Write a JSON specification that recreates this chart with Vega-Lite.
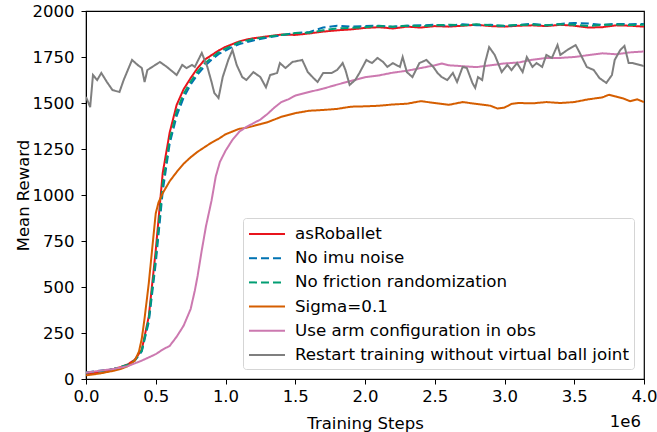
{
  "$schema": "https://vega.github.io/schema/vega-lite/v6.json",
  "width": 558,
  "height": 368,
  "autosize": {"type": "none"},
  "padding": {"left": 86, "top": 11, "right": 13, "bottom": 53},
  "config": {
    "font": "DejaVu Sans",
    "view": {"stroke": "black", "strokeWidth": 1.2}
  },
  "layer": [
    {
      "data": {"values": [
        {"s":"asRoballet","x":0,"y":30},{"s":"asRoballet","x":50000,"y":32},{"s":"asRoballet","x":100000,"y":40},{"s":"asRoballet","x":150000,"y":45},{"s":"asRoballet","x":200000,"y":55},{"s":"asRoballet","x":250000,"y":65},{"s":"asRoballet","x":300000,"y":80},{"s":"asRoballet","x":350000,"y":105},{"s":"asRoballet","x":400000,"y":160},{"s":"asRoballet","x":450000,"y":340},{"s":"asRoballet","x":500000,"y":700},{"s":"asRoballet","x":550000,"y":1120},{"s":"asRoballet","x":600000,"y":1340},{"s":"asRoballet","x":650000,"y":1490},{"s":"asRoballet","x":700000,"y":1575},{"s":"asRoballet","x":750000,"y":1635},{"s":"asRoballet","x":800000,"y":1690},{"s":"asRoballet","x":850000,"y":1735},{"s":"asRoballet","x":900000,"y":1760},{"s":"asRoballet","x":950000,"y":1785},{"s":"asRoballet","x":1000000,"y":1805},{"s":"asRoballet","x":1050000,"y":1820},{"s":"asRoballet","x":1100000,"y":1835},{"s":"asRoballet","x":1150000,"y":1845},{"s":"asRoballet","x":1200000,"y":1852},{"s":"asRoballet","x":1300000,"y":1862},{"s":"asRoballet","x":1400000,"y":1872},{"s":"asRoballet","x":1500000,"y":1870},{"s":"asRoballet","x":1600000,"y":1878},{"s":"asRoballet","x":1700000,"y":1888},{"s":"asRoballet","x":1800000,"y":1895},{"s":"asRoballet","x":1900000,"y":1900},{"s":"asRoballet","x":2000000,"y":1908},{"s":"asRoballet","x":2100000,"y":1912},{"s":"asRoballet","x":2200000,"y":1905},{"s":"asRoballet","x":2300000,"y":1915},{"s":"asRoballet","x":2400000,"y":1910},{"s":"asRoballet","x":2500000,"y":1918},{"s":"asRoballet","x":2600000,"y":1915},{"s":"asRoballet","x":2700000,"y":1920},{"s":"asRoballet","x":2800000,"y":1925},{"s":"asRoballet","x":2900000,"y":1918},{"s":"asRoballet","x":3000000,"y":1915},{"s":"asRoballet","x":3100000,"y":1920},{"s":"asRoballet","x":3200000,"y":1922},{"s":"asRoballet","x":3300000,"y":1918},{"s":"asRoballet","x":3400000,"y":1925},{"s":"asRoballet","x":3500000,"y":1920},{"s":"asRoballet","x":3600000,"y":1910},{"s":"asRoballet","x":3700000,"y":1912},{"s":"asRoballet","x":3800000,"y":1922},{"s":"asRoballet","x":3900000,"y":1920},{"s":"asRoballet","x":4000000,"y":1915},

        {"s":"No imu noise","x":0,"y":35},{"s":"No imu noise","x":100000,"y":45},{"s":"No imu noise","x":200000,"y":55},{"s":"No imu noise","x":300000,"y":75},{"s":"No imu noise","x":350000,"y":100},{"s":"No imu noise","x":400000,"y":150},{"s":"No imu noise","x":450000,"y":310},{"s":"No imu noise","x":500000,"y":630},{"s":"No imu noise","x":550000,"y":1020},{"s":"No imu noise","x":600000,"y":1280},{"s":"No imu noise","x":650000,"y":1430},{"s":"No imu noise","x":700000,"y":1530},{"s":"No imu noise","x":750000,"y":1600},{"s":"No imu noise","x":800000,"y":1655},{"s":"No imu noise","x":850000,"y":1700},{"s":"No imu noise","x":900000,"y":1735},{"s":"No imu noise","x":950000,"y":1765},{"s":"No imu noise","x":1000000,"y":1785},{"s":"No imu noise","x":1050000,"y":1805},{"s":"No imu noise","x":1100000,"y":1820},{"s":"No imu noise","x":1200000,"y":1840},{"s":"No imu noise","x":1300000,"y":1855},{"s":"No imu noise","x":1400000,"y":1868},{"s":"No imu noise","x":1500000,"y":1880},{"s":"No imu noise","x":1600000,"y":1885},{"s":"No imu noise","x":1700000,"y":1910},{"s":"No imu noise","x":1800000,"y":1920},{"s":"No imu noise","x":1900000,"y":1915},{"s":"No imu noise","x":2000000,"y":1918},{"s":"No imu noise","x":2100000,"y":1920},{"s":"No imu noise","x":2200000,"y":1915},{"s":"No imu noise","x":2300000,"y":1920},{"s":"No imu noise","x":2400000,"y":1922},{"s":"No imu noise","x":2500000,"y":1925},{"s":"No imu noise","x":2600000,"y":1920},{"s":"No imu noise","x":2700000,"y":1928},{"s":"No imu noise","x":2800000,"y":1922},{"s":"No imu noise","x":2900000,"y":1925},{"s":"No imu noise","x":3000000,"y":1918},{"s":"No imu noise","x":3100000,"y":1925},{"s":"No imu noise","x":3200000,"y":1930},{"s":"No imu noise","x":3300000,"y":1922},{"s":"No imu noise","x":3400000,"y":1930},{"s":"No imu noise","x":3500000,"y":1935},{"s":"No imu noise","x":3600000,"y":1932},{"s":"No imu noise","x":3700000,"y":1925},{"s":"No imu noise","x":3800000,"y":1930},{"s":"No imu noise","x":3900000,"y":1928},{"s":"No imu noise","x":4000000,"y":1930},

        {"s":"No friction randomization","x":0,"y":35},{"s":"No friction randomization","x":100000,"y":42},{"s":"No friction randomization","x":200000,"y":55},{"s":"No friction randomization","x":300000,"y":78},{"s":"No friction randomization","x":350000,"y":102},{"s":"No friction randomization","x":400000,"y":155},{"s":"No friction randomization","x":450000,"y":325},{"s":"No friction randomization","x":500000,"y":660},{"s":"No friction randomization","x":550000,"y":1060},{"s":"No friction randomization","x":600000,"y":1300},{"s":"No friction randomization","x":650000,"y":1455},{"s":"No friction randomization","x":700000,"y":1550},{"s":"No friction randomization","x":750000,"y":1615},{"s":"No friction randomization","x":800000,"y":1670},{"s":"No friction randomization","x":850000,"y":1715},{"s":"No friction randomization","x":900000,"y":1745},{"s":"No friction randomization","x":950000,"y":1775},{"s":"No friction randomization","x":1000000,"y":1795},{"s":"No friction randomization","x":1100000,"y":1830},{"s":"No friction randomization","x":1200000,"y":1848},{"s":"No friction randomization","x":1300000,"y":1860},{"s":"No friction randomization","x":1400000,"y":1870},{"s":"No friction randomization","x":1500000,"y":1880},{"s":"No friction randomization","x":1600000,"y":1882},{"s":"No friction randomization","x":1700000,"y":1895},{"s":"No friction randomization","x":1800000,"y":1905},{"s":"No friction randomization","x":1900000,"y":1908},{"s":"No friction randomization","x":2000000,"y":1912},{"s":"No friction randomization","x":2100000,"y":1918},{"s":"No friction randomization","x":2200000,"y":1915},{"s":"No friction randomization","x":2300000,"y":1920},{"s":"No friction randomization","x":2400000,"y":1918},{"s":"No friction randomization","x":2500000,"y":1922},{"s":"No friction randomization","x":2600000,"y":1925},{"s":"No friction randomization","x":2700000,"y":1922},{"s":"No friction randomization","x":2800000,"y":1928},{"s":"No friction randomization","x":2900000,"y":1922},{"s":"No friction randomization","x":3000000,"y":1920},{"s":"No friction randomization","x":3100000,"y":1924},{"s":"No friction randomization","x":3200000,"y":1926},{"s":"No friction randomization","x":3300000,"y":1922},{"s":"No friction randomization","x":3400000,"y":1928},{"s":"No friction randomization","x":3500000,"y":1925},{"s":"No friction randomization","x":3600000,"y":1918},{"s":"No friction randomization","x":3700000,"y":1925},{"s":"No friction randomization","x":3800000,"y":1926},{"s":"No friction randomization","x":3900000,"y":1924},{"s":"No friction randomization","x":4000000,"y":1925},

        {"s":"Sigma=0.1","x":0,"y":20},{"s":"Sigma=0.1","x":100000,"y":30},{"s":"Sigma=0.1","x":200000,"y":45},{"s":"Sigma=0.1","x":250000,"y":55},{"s":"Sigma=0.1","x":300000,"y":70},{"s":"Sigma=0.1","x":350000,"y":100},{"s":"Sigma=0.1","x":380000,"y":150},{"s":"Sigma=0.1","x":400000,"y":220},{"s":"Sigma=0.1","x":420000,"y":330},{"s":"Sigma=0.1","x":450000,"y":520},{"s":"Sigma=0.1","x":480000,"y":750},{"s":"Sigma=0.1","x":500000,"y":900},{"s":"Sigma=0.1","x":520000,"y":960},{"s":"Sigma=0.1","x":550000,"y":1010},{"s":"Sigma=0.1","x":600000,"y":1075},{"s":"Sigma=0.1","x":650000,"y":1125},{"s":"Sigma=0.1","x":700000,"y":1170},{"s":"Sigma=0.1","x":750000,"y":1205},{"s":"Sigma=0.1","x":800000,"y":1235},{"s":"Sigma=0.1","x":850000,"y":1260},{"s":"Sigma=0.1","x":900000,"y":1285},{"s":"Sigma=0.1","x":950000,"y":1305},{"s":"Sigma=0.1","x":1000000,"y":1330},{"s":"Sigma=0.1","x":1050000,"y":1345},{"s":"Sigma=0.1","x":1100000,"y":1360},{"s":"Sigma=0.1","x":1150000,"y":1365},{"s":"Sigma=0.1","x":1200000,"y":1375},{"s":"Sigma=0.1","x":1250000,"y":1385},{"s":"Sigma=0.1","x":1300000,"y":1395},{"s":"Sigma=0.1","x":1350000,"y":1410},{"s":"Sigma=0.1","x":1400000,"y":1425},{"s":"Sigma=0.1","x":1500000,"y":1445},{"s":"Sigma=0.1","x":1600000,"y":1458},{"s":"Sigma=0.1","x":1700000,"y":1462},{"s":"Sigma=0.1","x":1800000,"y":1468},{"s":"Sigma=0.1","x":1900000,"y":1480},{"s":"Sigma=0.1","x":2000000,"y":1482},{"s":"Sigma=0.1","x":2100000,"y":1485},{"s":"Sigma=0.1","x":2200000,"y":1492},{"s":"Sigma=0.1","x":2300000,"y":1496},{"s":"Sigma=0.1","x":2400000,"y":1510},{"s":"Sigma=0.1","x":2500000,"y":1500},{"s":"Sigma=0.1","x":2600000,"y":1490},{"s":"Sigma=0.1","x":2700000,"y":1505},{"s":"Sigma=0.1","x":2800000,"y":1495},{"s":"Sigma=0.1","x":2900000,"y":1485},{"s":"Sigma=0.1","x":2950000,"y":1470},{"s":"Sigma=0.1","x":3000000,"y":1475},{"s":"Sigma=0.1","x":3050000,"y":1495},{"s":"Sigma=0.1","x":3100000,"y":1500},{"s":"Sigma=0.1","x":3200000,"y":1498},{"s":"Sigma=0.1","x":3300000,"y":1505},{"s":"Sigma=0.1","x":3400000,"y":1500},{"s":"Sigma=0.1","x":3500000,"y":1505},{"s":"Sigma=0.1","x":3600000,"y":1520},{"s":"Sigma=0.1","x":3700000,"y":1530},{"s":"Sigma=0.1","x":3750000,"y":1545},{"s":"Sigma=0.1","x":3800000,"y":1535},{"s":"Sigma=0.1","x":3850000,"y":1525},{"s":"Sigma=0.1","x":3900000,"y":1510},{"s":"Sigma=0.1","x":3950000,"y":1520},{"s":"Sigma=0.1","x":4000000,"y":1505},

        {"s":"Use arm configuration in obs","x":0,"y":35},{"s":"Use arm configuration in obs","x":100000,"y":45},{"s":"Use arm configuration in obs","x":200000,"y":55},{"s":"Use arm configuration in obs","x":300000,"y":70},{"s":"Use arm configuration in obs","x":400000,"y":100},{"s":"Use arm configuration in obs","x":500000,"y":135},{"s":"Use arm configuration in obs","x":550000,"y":160},{"s":"Use arm configuration in obs","x":600000,"y":180},{"s":"Use arm configuration in obs","x":650000,"y":230},{"s":"Use arm configuration in obs","x":700000,"y":290},{"s":"Use arm configuration in obs","x":750000,"y":380},{"s":"Use arm configuration in obs","x":780000,"y":480},{"s":"Use arm configuration in obs","x":800000,"y":560},{"s":"Use arm configuration in obs","x":830000,"y":700},{"s":"Use arm configuration in obs","x":860000,"y":830},{"s":"Use arm configuration in obs","x":900000,"y":970},{"s":"Use arm configuration in obs","x":930000,"y":1100},{"s":"Use arm configuration in obs","x":960000,"y":1180},{"s":"Use arm configuration in obs","x":1000000,"y":1240},{"s":"Use arm configuration in obs","x":1050000,"y":1300},{"s":"Use arm configuration in obs","x":1100000,"y":1345},{"s":"Use arm configuration in obs","x":1150000,"y":1370},{"s":"Use arm configuration in obs","x":1200000,"y":1390},{"s":"Use arm configuration in obs","x":1250000,"y":1410},{"s":"Use arm configuration in obs","x":1300000,"y":1440},{"s":"Use arm configuration in obs","x":1350000,"y":1475},{"s":"Use arm configuration in obs","x":1400000,"y":1505},{"s":"Use arm configuration in obs","x":1450000,"y":1520},{"s":"Use arm configuration in obs","x":1500000,"y":1540},{"s":"Use arm configuration in obs","x":1550000,"y":1550},{"s":"Use arm configuration in obs","x":1600000,"y":1560},{"s":"Use arm configuration in obs","x":1700000,"y":1578},{"s":"Use arm configuration in obs","x":1800000,"y":1600},{"s":"Use arm configuration in obs","x":1900000,"y":1620},{"s":"Use arm configuration in obs","x":2000000,"y":1640},{"s":"Use arm configuration in obs","x":2100000,"y":1650},{"s":"Use arm configuration in obs","x":2200000,"y":1665},{"s":"Use arm configuration in obs","x":2300000,"y":1675},{"s":"Use arm configuration in obs","x":2400000,"y":1690},{"s":"Use arm configuration in obs","x":2500000,"y":1705},{"s":"Use arm configuration in obs","x":2550000,"y":1715},{"s":"Use arm configuration in obs","x":2600000,"y":1705},{"s":"Use arm configuration in obs","x":2700000,"y":1700},{"s":"Use arm configuration in obs","x":2800000,"y":1695},{"s":"Use arm configuration in obs","x":2900000,"y":1705},{"s":"Use arm configuration in obs","x":3000000,"y":1715},{"s":"Use arm configuration in obs","x":3100000,"y":1720},{"s":"Use arm configuration in obs","x":3200000,"y":1735},{"s":"Use arm configuration in obs","x":3300000,"y":1745},{"s":"Use arm configuration in obs","x":3400000,"y":1745},{"s":"Use arm configuration in obs","x":3500000,"y":1750},{"s":"Use arm configuration in obs","x":3600000,"y":1760},{"s":"Use arm configuration in obs","x":3700000,"y":1770},{"s":"Use arm configuration in obs","x":3800000,"y":1765},{"s":"Use arm configuration in obs","x":3900000,"y":1775},{"s":"Use arm configuration in obs","x":4000000,"y":1780},

        {"s":"Restart training without virtual ball joint","x":0,"y":1533},{"s":"Restart training without virtual ball joint","x":30000,"y":1478},{"s":"Restart training without virtual ball joint","x":50000,"y":1652},{"s":"Restart training without virtual ball joint","x":80000,"y":1625},{"s":"Restart training without virtual ball joint","x":110000,"y":1663},{"s":"Restart training without virtual ball joint","x":150000,"y":1614},{"s":"Restart training without virtual ball joint","x":190000,"y":1570},{"s":"Restart training without virtual ball joint","x":240000,"y":1560},{"s":"Restart training without virtual ball joint","x":270000,"y":1625},{"s":"Restart training without virtual ball joint","x":330000,"y":1734},{"s":"Restart training without virtual ball joint","x":370000,"y":1707},{"s":"Restart training without virtual ball joint","x":400000,"y":1690},{"s":"Restart training without virtual ball joint","x":420000,"y":1614},{"s":"Restart training without virtual ball joint","x":440000,"y":1679},{"s":"Restart training without virtual ball joint","x":530000,"y":1723},{"s":"Restart training without virtual ball joint","x":580000,"y":1696},{"s":"Restart training without virtual ball joint","x":650000,"y":1652},{"s":"Restart training without virtual ball joint","x":690000,"y":1707},{"s":"Restart training without virtual ball joint","x":720000,"y":1690},{"s":"Restart training without virtual ball joint","x":760000,"y":1707},{"s":"Restart training without virtual ball joint","x":780000,"y":1696},{"s":"Restart training without virtual ball joint","x":830000,"y":1772},{"s":"Restart training without virtual ball joint","x":870000,"y":1696},{"s":"Restart training without virtual ball joint","x":900000,"y":1614},{"s":"Restart training without virtual ball joint","x":920000,"y":1554},{"s":"Restart training without virtual ball joint","x":950000,"y":1527},{"s":"Restart training without virtual ball joint","x":980000,"y":1641},{"s":"Restart training without virtual ball joint","x":1020000,"y":1734},{"s":"Restart training without virtual ball joint","x":1050000,"y":1788},{"s":"Restart training without virtual ball joint","x":1080000,"y":1707},{"s":"Restart training without virtual ball joint","x":1120000,"y":1641},{"s":"Restart training without virtual ball joint","x":1150000,"y":1625},{"s":"Restart training without virtual ball joint","x":1200000,"y":1668},{"s":"Restart training without virtual ball joint","x":1250000,"y":1641},{"s":"Restart training without virtual ball joint","x":1290000,"y":1585},{"s":"Restart training without virtual ball joint","x":1320000,"y":1652},{"s":"Restart training without virtual ball joint","x":1370000,"y":1663},{"s":"Restart training without virtual ball joint","x":1390000,"y":1717},{"s":"Restart training without virtual ball joint","x":1430000,"y":1690},{"s":"Restart training without virtual ball joint","x":1480000,"y":1723},{"s":"Restart training without virtual ball joint","x":1550000,"y":1734},{"s":"Restart training without virtual ball joint","x":1590000,"y":1668},{"s":"Restart training without virtual ball joint","x":1630000,"y":1636},{"s":"Restart training without virtual ball joint","x":1660000,"y":1614},{"s":"Restart training without virtual ball joint","x":1700000,"y":1663},{"s":"Restart training without virtual ball joint","x":1760000,"y":1663},{"s":"Restart training without virtual ball joint","x":1800000,"y":1679},{"s":"Restart training without virtual ball joint","x":1840000,"y":1717},{"s":"Restart training without virtual ball joint","x":1860000,"y":1679},{"s":"Restart training without virtual ball joint","x":1890000,"y":1598},{"s":"Restart training without virtual ball joint","x":1930000,"y":1625},{"s":"Restart training without virtual ball joint","x":1960000,"y":1663},{"s":"Restart training without virtual ball joint","x":2010000,"y":1734},{"s":"Restart training without virtual ball joint","x":2050000,"y":1717},{"s":"Restart training without virtual ball joint","x":2090000,"y":1745},{"s":"Restart training without virtual ball joint","x":2130000,"y":1723},{"s":"Restart training without virtual ball joint","x":2160000,"y":1696},{"s":"Restart training without virtual ball joint","x":2200000,"y":1717},{"s":"Restart training without virtual ball joint","x":2250000,"y":1696},{"s":"Restart training without virtual ball joint","x":2270000,"y":1750},{"s":"Restart training without virtual ball joint","x":2300000,"y":1668},{"s":"Restart training without virtual ball joint","x":2340000,"y":1641},{"s":"Restart training without virtual ball joint","x":2390000,"y":1717},{"s":"Restart training without virtual ball joint","x":2440000,"y":1734},{"s":"Restart training without virtual ball joint","x":2490000,"y":1696},{"s":"Restart training without virtual ball joint","x":2520000,"y":1663},{"s":"Restart training without virtual ball joint","x":2550000,"y":1641},{"s":"Restart training without virtual ball joint","x":2590000,"y":1625},{"s":"Restart training without virtual ball joint","x":2630000,"y":1663},{"s":"Restart training without virtual ball joint","x":2660000,"y":1614},{"s":"Restart training without virtual ball joint","x":2700000,"y":1696},{"s":"Restart training without virtual ball joint","x":2730000,"y":1690},{"s":"Restart training without virtual ball joint","x":2770000,"y":1609},{"s":"Restart training without virtual ball joint","x":2790000,"y":1582},{"s":"Restart training without virtual ball joint","x":2810000,"y":1641},{"s":"Restart training without virtual ball joint","x":2840000,"y":1625},{"s":"Restart training without virtual ball joint","x":2860000,"y":1717},{"s":"Restart training without virtual ball joint","x":2890000,"y":1804},{"s":"Restart training without virtual ball joint","x":2930000,"y":1761},{"s":"Restart training without virtual ball joint","x":2980000,"y":1668},{"s":"Restart training without virtual ball joint","x":3020000,"y":1707},{"s":"Restart training without virtual ball joint","x":3050000,"y":1679},{"s":"Restart training without virtual ball joint","x":3090000,"y":1717},{"s":"Restart training without virtual ball joint","x":3130000,"y":1668},{"s":"Restart training without virtual ball joint","x":3160000,"y":1750},{"s":"Restart training without virtual ball joint","x":3200000,"y":1696},{"s":"Restart training without virtual ball joint","x":3230000,"y":1717},{"s":"Restart training without virtual ball joint","x":3270000,"y":1696},{"s":"Restart training without virtual ball joint","x":3300000,"y":1761},{"s":"Restart training without virtual ball joint","x":3340000,"y":1745},{"s":"Restart training without virtual ball joint","x":3380000,"y":1815},{"s":"Restart training without virtual ball joint","x":3400000,"y":1761},{"s":"Restart training without virtual ball joint","x":3450000,"y":1788},{"s":"Restart training without virtual ball joint","x":3510000,"y":1815},{"s":"Restart training without virtual ball joint","x":3540000,"y":1772},{"s":"Restart training without virtual ball joint","x":3590000,"y":1696},{"s":"Restart training without virtual ball joint","x":3640000,"y":1679},{"s":"Restart training without virtual ball joint","x":3680000,"y":1636},{"s":"Restart training without virtual ball joint","x":3730000,"y":1609},{"s":"Restart training without virtual ball joint","x":3770000,"y":1652},{"s":"Restart training without virtual ball joint","x":3790000,"y":1734},{"s":"Restart training without virtual ball joint","x":3830000,"y":1788},{"s":"Restart training without virtual ball joint","x":3860000,"y":1810},{"s":"Restart training without virtual ball joint","x":3890000,"y":1717},{"s":"Restart training without virtual ball joint","x":3920000,"y":1717},{"s":"Restart training without virtual ball joint","x":3970000,"y":1707},{"s":"Restart training without virtual ball joint","x":4000000,"y":1700}
      ]},
      "mark": {"type": "line", "strokeWidth": 2, "clip": true},
      "encoding": {
        "x": {
          "field": "x", "type": "quantitative",
          "scale": {"domain": [0, 4000000], "nice": false},
          "axis": {
            "values": [0, 500000, 1000000, 1500000, 2000000, 2500000, 3000000, 3500000, 4000000],
            "labelExpr": "format(datum.value / 1000000, '.1f')",
            "labelFlush": false, "labelOverlap": false,
            "title": "Training Steps", "titlePadding": 11,
            "grid": false, "domainColor": "black", "tickColor": "black", "tickSize": 5,
            "labelColor": "black", "titleColor": "black", "labelFontSize": 16.5, "titleFontSize": 16.5,
            "titleFontWeight": "normal", "labelPadding": 4, "labelFont": "DejaVu Sans", "titleFont": "DejaVu Sans"
          }
        },
        "y": {
          "field": "y", "type": "quantitative",
          "scale": {"domain": [0, 2000], "nice": false},
          "axis": {
            "values": [0, 250, 500, 750, 1000, 1250, 1500, 1750, 2000], "format": "d",
            "labelFlush": false, "labelOverlap": false,
            "title": "Mean Reward", "titlePadding": 1,
            "grid": false, "domainColor": "black", "tickColor": "black", "tickSize": 5,
            "labelColor": "black", "titleColor": "black", "labelFontSize": 16.5, "titleFontSize": 16.5,
            "titleFontWeight": "normal", "labelPadding": 7, "labelFont": "DejaVu Sans", "titleFont": "DejaVu Sans"
          }
        },
        "color": {
          "field": "s", "type": "nominal",
          "scale": {
            "domain": ["asRoballet", "No imu noise", "No friction randomization", "Sigma=0.1", "Use arm configuration in obs", "Restart training without virtual ball joint"],
            "range": ["#e8141c", "#0173b2", "#029e73", "#d55e00", "#cc79b0", "#7f7f7f"]
          },
          "legend": {
            "title": null, "orient": "bottom-right", "offset": 10,
            "labelFontSize": 16.7, "labelFont": "DejaVu Sans", "labelColor": "black", "labelLimit": 600,
            "symbolType": "M-1,0H2.6", "symbolSize": 400, "symbolStrokeWidth": 2,
            "labelOffset": 25, "rowPadding": 4.2, "padding": 5,
            "strokeColor": "#d5d5d5", "fillColor": "white", "cornerRadius": 3
          }
        },
        "strokeDash": {
          "field": "s", "type": "nominal",
          "scale": {
            "domain": ["asRoballet", "No imu noise", "No friction randomization", "Sigma=0.1", "Use arm configuration in obs", "Restart training without virtual ball joint"],
            "range": [[1, 0], [8, 4], [8, 4], [1, 0], [1, 0], [1, 0]]
          },
          "legend": {
            "title": null, "orient": "bottom-right", "offset": 10,
            "labelFontSize": 16.7, "labelFont": "DejaVu Sans", "labelColor": "black", "labelLimit": 600,
            "symbolType": "M-1,0H2.6", "symbolSize": 400, "symbolStrokeWidth": 2,
            "labelOffset": 25, "rowPadding": 4.2, "padding": 5,
            "strokeColor": "#d5d5d5", "fillColor": "white", "cornerRadius": 3
          }
        }
      }
    },
    {
      "data": {"values": [{"x": 4000000, "y": 0, "t": "1e6"}]},
      "mark": {"type": "text", "align": "right", "baseline": "middle", "dx": -3, "dy": 43, "fontSize": 16.5, "font": "DejaVu Sans", "color": "black", "clip": false},
      "encoding": {
        "x": {"field": "x", "type": "quantitative"},
        "y": {"field": "y", "type": "quantitative"},
        "text": {"field": "t"}
      }
    }
  ]
}
